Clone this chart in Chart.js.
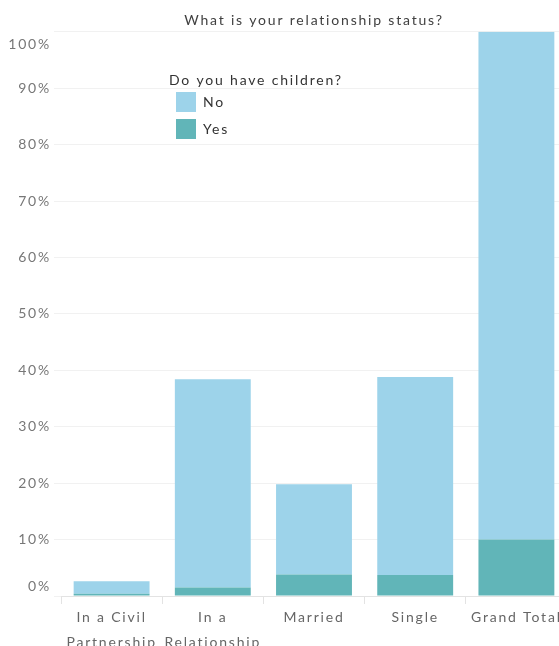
<!DOCTYPE html>
<html>
<head>
<meta charset="utf-8">
<script src="https://cdn.jsdelivr.net/npm/chart.js@4/dist/chart.umd.min.js"></script>
<style>
  html, body { margin: 0; padding: 0; background: #ffffff; overflow: hidden; }
  #wrap { position: relative; width: 567px; height: 646px; }
</style>
</head>
<body>
<div id="wrap"><canvas id="chart"></canvas></div>
<script>
// ---- Data ----
const chartTitle = 'What is your relationship status?';
const legendTitle = 'Do you have children?';
const categories = [['In a Civil', 'Partnership'], ['In a', 'Relationship'], 'Married', 'Single', 'Grand Total'];
const seriesNames = ['Yes', 'No'];
const yesValues = [0.4, 1.5, 3.8, 3.7, 10.0];
const noValues = [2.2, 36.9, 16.0, 35.1, 90.0];
const yTickValues = [0, 10, 20, 30, 40, 50, 60, 70, 80, 90, 100];

const FONT = 'Lato, "Open Sans", sans-serif';
const COLOR_YES = '#61b5b8';
const COLOR_NO = '#9dd3ea';
const SPACING = '1.8px';

const spacingPlugin = {
  id: 'spacing',
  beforeUpdate(chart) { chart.ctx.letterSpacing = SPACING; },
  beforeLayout(chart) { chart.ctx.letterSpacing = SPACING; },
  beforeDraw(chart) { chart.ctx.letterSpacing = SPACING; }
};

const legendPlacer = {
  id: 'legendPlacer',
  afterLayout(chart) {
    const lg = chart.legend;
    if (!lg) return;
    lg.left = 169; lg.top = 73;
    lg.width = 240;
    lg.right = lg.left + lg.width;
    lg.bottom = chart.chartArea.bottom;
  }
};

new Chart(document.getElementById('chart'), {
  type: 'bar',
  data: {
    labels: categories,
    datasets: [
      { label: seriesNames[0], data: yesValues, backgroundColor: COLOR_YES, borderWidth: 0 },
      { label: seriesNames[1], data: noValues, backgroundColor: COLOR_NO, borderWidth: 0 }
    ]
  },
  plugins: [spacingPlugin, legendPlacer],
  options: {
    responsive: true,
    maintainAspectRatio: false,
    animation: false,
    layout: { padding: { top: 0, left: 0, right: 0, bottom: -10 } },
    datasets: { bar: { barPercentage: 0.75, categoryPercentage: 1.0 } },
    plugins: {
      title: {
        display: true,
        text: chartTitle,
        fullSize: false,
        color: '#404040',
        font: { family: FONT, size: 14, weight: 'normal', lineHeight: 1.2 },
        padding: { top: 12, bottom: 3 }
      },
      legend: {
        position: 'chartArea',
        align: 'start',
        reverse: true,
        title: {
          display: true,
          text: legendTitle,
          position: 'start',
          color: '#333333',
          font: { family: FONT, size: 14, lineHeight: '12px' },
          padding: 0
        },
        labels: {
          boxWidth: 20,
          boxHeight: 20,
          padding: 7,
          color: '#333333',
          font: { family: FONT, size: 14 }
        }
      },
      tooltip: { enabled: false }
    },
    scales: {
      x: {
        stacked: true,
        offset: true,
        grid: {
          display: true,
          drawOnChartArea: false,
          drawTicks: true,
          tickLength: 8,
          color: '#e3e3e3'
        },
        border: { display: true, color: '#e3e3e3', dash: [3, 2] },
        ticks: {
          color: '#666666',
          padding: 1,
          maxRotation: 0,
          autoSkip: false,
          font: { family: FONT, size: 14, lineHeight: '25px' }
        }
      },
      y: {
        stacked: true,
        min: 0,
        max: 100,
        afterBuildTicks(scale) { scale.ticks = yTickValues.map(v => ({ value: v })); },
        afterFit(scale) { scale.width = 61; },
        grid: { color: '#f1f1f1', tickLength: 7, drawTicks: true },
        border: { display: false },
        ticks: {
          padding: 3,
          color: '#777777',
          callback(value) {
            if (value === 100) return ['', value + '%'];
            if (value === 0) return [value + '%', ''];
            return value + '%';
          },
          font(ctx) {
            const v = ctx.tick ? ctx.tick.value : null;
            let lh = 1.2;
            if (v === 100) lh = '26px';
            else if (v === 0) lh = '20px';
            return { family: FONT, size: 14, lineHeight: lh };
          }
        }
      }
    }
  }
});
</script>
</body>
</html>
